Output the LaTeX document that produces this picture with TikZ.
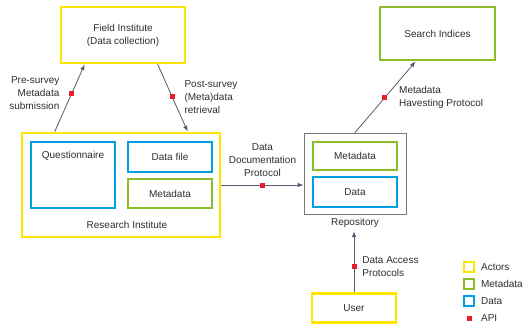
\documentclass[tikz,border=0pt]{standalone}
\usepackage{fontspec}
\setmainfont{Liberation Sans}
\usetikzlibrary{positioning}
\usetikzlibrary{arrows.meta}

\definecolor{actoryellow}{RGB}{255,230,0}
\definecolor{metagreen}{RGB}{141,190,40}
\definecolor{datablue}{RGB}{0,160,225}
\definecolor{apired}{RGB}{232,30,45}
\definecolor{arrowgray}{RGB}{85,92,110}
\definecolor{repogray}{RGB}{120,120,120}
\definecolor{textgray}{RGB}{45,45,45}

\begin{document}
\begin{tikzpicture}[x=1pt,y=-1pt,
  every node/.style={font=\fontsize{10}{13}\selectfont,text=textgray},
  actor/.style={draw=actoryellow,line width=2.6pt},
  metabox/.style={draw=metagreen,line width=2.6pt},
  databox/.style={draw=datablue,line width=2.6pt},
  repobox/.style={draw=repogray,line width=0.8pt},
  flow/.style={draw=arrowgray,line width=0.8pt,-{Latex[length=6pt,width=4.5pt]}},
  api/.style={fill=apired,minimum size=5pt,inner sep=0pt},
  keybox/.style={line width=2.2pt,minimum size=10pt,inner sep=0pt},
  keytext/.style={anchor=west,inner sep=2pt,text height=8pt,text depth=1pt}]
\useasboundingbox (0,0) rectangle (527,324);

\node[actor,minimum width=124pt,minimum height=56pt,align=center] (field) at (123,35) {Field Institute\\(Data collection)};
\node[metabox,minimum width=115pt,minimum height=53pt] (search) at (437.5,33.5) {Search Indices};

\node[actor,minimum width=198pt,minimum height=104pt] (research) at (121,185) {};
\node[databox,minimum width=84pt,minimum height=66pt] (quest) at (73,175) {};
\node (questtext) at (73,156) {Questionnaire};
\node[databox,minimum width=84pt,minimum height=30pt] (datafile) at (170,157) {Data file};
\node[metabox,minimum width=84pt,minimum height=29pt] (metafile) at (170,193.5) {Metadata};
\node (researchlabel) at (127,225) {Research Institute};

\node[repobox,minimum width=102pt,minimum height=81pt] (repo) at (355,173.5) {};
\node[metabox,minimum width=84pt,minimum height=28pt] (repmeta) at (355,156) {Metadata};
\node[databox,minimum width=84pt,minimum height=30pt] (repdata) at (355,192) {Data};
\node (replabel) at (355,223) {Repository};

\node[actor,minimum width=84pt,minimum height=29pt] (user) at (354,308) {User};

% connectors
\draw[flow] ([xshift=34pt]research.north west) -- node[api,pos=0.57] (preapi) {} ([xshift=25pt]field.south west);
\draw[flow] ([xshift=98pt]field.south west) -- node[api,pos=0.48] (postapi) {} ([xshift=167pt]research.north west);
\draw[flow] (research.east) -- node[api,pos=0.5] (docapi) {} (research.east -| repo.west);
\draw[flow] (repo.north) -- node[api,pos=0.49] (harvestapi) {} ([xshift=37pt]search.south west);
\draw[flow] (user.north) -- node[api,pos=0.42] (accessapi) {} (user.north |- replabel.south);

\node[left=6pt of preapi,align=right] (pretext) {Pre-survey\\Metadata\\submission};
\node[right=6pt of postapi,align=left] (posttext) {Post-survey\\(Meta)data\\retrieval};
\node[above=2pt of docapi,align=center] (doctext) {Data\\Documentation\\Protocol};
\node[right=8pt of harvestapi,align=left] (harvesttext) {Metadata\\Havesting Protocol};
\node[right=2pt of accessapi,align=left] (accesstext) {Data Access\\Protocols};

% legend
\matrix[matrix anchor=actorkey.center,column sep=4pt,row sep=4pt] at (469,267) {
\node[keybox,draw=actoryellow] (actorkey) {}; & \node[keytext] {Actors}; \\
\node[keybox,draw=metagreen] (metakey) {}; & \node[keytext] {Metadata}; \\
\node[keybox,draw=datablue] (datakey) {}; & \node[keytext] {Data}; \\
\node[api] (apikey) {}; & \node[keytext] {API}; \\
};

\end{tikzpicture}
\end{document}
